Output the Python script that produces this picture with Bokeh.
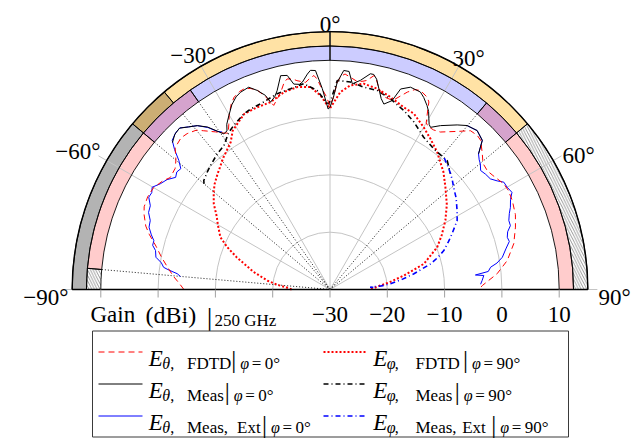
import numpy as np
from bokeh.plotting import figure
from bokeh.models import Range1d
from bokeh.core.properties import value
from bokeh.embed import file_html
from bokeh.resources import INLINE

# ---------------- data (angle in degrees, gain in dBi) ----------------
th_fdtd_theta = [-90, -88, -85, -82, -79, -76, -73, -71, -68, -66,
                 -63, -60, -57, -55, -52, -50, -47.5, -44.5, -42.5, -40,
                 -38.5, -36, -34, -33, -31.5, -30, -28, -26.5, -24.5, -23,
                 -21.5, -20, -18.5, -17, -15.5, -14, -12.5, -11.5, -10, -9,
                 -6.7, -5.5, -4.3, -3.5, -2.7, -1.2, 0, 1, 2, 3,
                 4, 5.5, 7.5, 9, 10, 11.6, 12.5, 13.7, 16, 17.5,
                 19, 21.4, 23, 24.5, 26.8, 27.8, 29, 30, 31, 33,
                 35, 38.8, 41.5, 43.7, 45.3, 48.3, 50.5, 53, 55, 58.7,
                 61, 64, 68, 71.4, 76, 80.7, 84.6, 88.5, 90]
g_fdtd_theta = [-4.5, -3.8, -2.5, -1.3, 0.0, 1.3, 3.0, 4.0, 5.0, 5.5,
                5.7, 5.55, 4.8, 4.05, 4.3, 5.1, 6.65, 7.1, 6.9, 6.3,
                5.4, 4.0, 2.9, 2.6, 3.8, 5.2, 6.7, 7.5, 8.0, 8.1,
                7.7, 7.0, 5.5, 3.6, 4.5, 5.5, 7.0, 7.5, 7.3, 6.9,
                6.4, 7.0, 7.45, 6.8, 5.6, 3.8, 2.1, 3.5, 6.2, 7.3,
                7.7, 7.2, 6.6, 6.8, 7.05, 8.1, 7.5, 6.05, 4.9, 4.8,
                5.2, 7.0, 7.9, 8.15, 7.6, 7.0, 5.0, 3.6, 3.2, 3.2,
                3.55, 5.4, 7.0, 7.2, 7.0, 5.6, 4.6, 4.4, 4.7, 5.5,
                5.6, 5.4, 4.9, 4.15, 3.05, 1.35, -0.7, -3.4, -4.0]

th_meas_theta = [-47, -45, -43, -41, -39, -37, -35, -34.3, -33, -32,
                 -30.2, -28, -26, -24.4, -21.9, -20.1, -18.4, -17.6, -16, -14.9,
                 -13, -11.3, -10, -8.5, -7.6, -6, -5.1, -3.8, -2.2, -0.6,
                 0, 1, 2, 3.6, 5, 6.2, 8.3, 10.6, 11.5, 12.5,
                 13.7, 15, 16.2, 18.2, 19.4, 21.7, 24.6, 26, 27.8, 29,
                 30, 31, 31.8, 34, 37.7, 39.9, 42.8, 45.6, 47.6]
g_meas_theta = [7.6, 8.3, 8.5, 7.6, 6.8, 5.5, 3.5, 2.9, 3.0, 4.0,
                5.1, 6.5, 7.4, 7.8, 8.05, 7.0, 5.7, 4.3, 5.0, 5.9,
                8.3, 8.1, 6.4, 6.2, 6.5, 7.8, 8.4, 8.3, 5.1, 1.5,
                1.8, 3.5, 6.2, 8.3, 8.2, 6.1, 6.9, 8.3, 8.3, 7.6,
                6.05, 4.5, 3.7, 4.7, 7.1, 8.0, 7.9, 7.3, 6.3, 5.5,
                4.5, 3.6, 3.3, 4.5, 6.3, 7.3, 7.8, 7.2, 5.1]

th_ext_theta_l = [-85, -84.1, -83, -82.4, -81, -79.5, -77.4, -76, -74.5, -73,
                  -71, -69, -67, -65, -63, -61.5, -60.1, -58.1, -56, -54,
                  -52.5, -51, -49.5, -48, -46.6, -44.5, -42.9, -41, -39, -37,
                  -35.5, -34.4]
g_ext_theta_l = [-3.8, -3.2, -1.5, -0.7, -0.2, 0.9, 1.2, 1.9, 1.9, 2.6,
                 3.4, 3.6, 4.4, 4.6, 5.5, 5.4, 5.8, 4.9, 4.3, 3.3,
                 3.7, 3.5, 4.7, 6.5, 7.9, 8.4, 8.5, 7.6, 6.8, 5.4,
                 3.9, 3.3]
th_ext_theta_r = [40, 42.8, 45.6, 47.6, 49, 50.1, 51.7, 53.5, 55.4, 57,
                  58.3, 60, 61.9, 63.5, 65.5, 67, 68.9, 70.5, 72, 73.6,
                  75, 77, 79.4, 81, 82.1, 83.5, 84.3, 84.8, 86.6, 88]
g_ext_theta_r = [7.3, 7.8, 7.2, 5.1, 4.5, 4.2, 3.5, 3.8, 4.0, 4.8,
                 5.65, 5.7, 6.0, 5.2, 4.6, 4.0, 3.45, 3.4, 2.6, 2.25,
                 2.4, 1.5, 0.6, -0.5, -1.7, -2.2, -4.5, -3.05, -3.4, -3.7]

th_fdtd_phi = [-90, -87, -85, -82, -77, -71, -67.6, -64.5, -60, -57,
               -53.6, -50, -47.5, -44, -42, -39, -37, -34, -31.5, -29,
               -26, -22, -17.6, -15, -13, -9, -5.5, -2.8, -1, 0,
               1, 3, 5.7, 9.3, 13.2, 17.5, 22, 25.5, 30, 33.7,
               38, 39.4, 44, 48.5, 54, 59, 64, 68.5, 74.7, 79.3,
               83, 85.5, 90]
g_fdtd_phi = [-23.3, -22.3, -20.8, -19.0, -16.3, -12.8, -10.6, -8.8, -7.4, -6.4,
              -4.8, -3.5, -2.7, -1.8, -1.3, -0.4, 0.1, 1.0, 2.5, 3.2,
              4.1, 4.25, 4.3, 4.9, 5.4, 5.8, 5.5, 3.9, 2.3, 1.6,
              2.5, 4.5, 5.8, 6.4, 6.0, 5.2, 4.3, 4.0, 2.7, 1.6,
              0.4, -0.1, -1.5, -3.1, -4.8, -6.5, -8.3, -9.9, -13.0, -16.9,
              -19.5, -21.2, -23.0]

th_meas_phi = [-50, -49.2, -46, -43.9, -39.7, -36.4, -32.9, -30.4, -26.1, -23.7,
               -19.5, -15.1, -11.1, -7.3, -3.7, -1.5, -0.4, 0.5, 2, 5.6,
               9.5, 13.3, 17.6, 22.4, 26.6, 31.6, 36.4, 42.3, 46.2]
g_meas_phi = [-1.3, -0.9, -0.3, 0.05, 0.8, 1.2, 2.6, 3.2, 4.15, 4.4,
              4.7, 5.4, 5.7, 6.2, 4.8, 3.0, 2.4, 3.5, 6.5, 6.4,
              5.8, 5.7, 4.9, 3.8, 2.7, 1.2, 0.5, 0.4, -0.85]

th_ext_phi = [41, 44, 46.2, 48, 50.4, 54, 58.2, 61.5, 65.5, 68,
              71.1, 73.5, 75.7, 79.4, 82, 84.6, 86, 86.7, 87.2]
g_ext_phi = [0.4, -0.3, -0.85, -1.3, -2.0, -2.8, -3.9, -4.75, -6.6, -7.7,
             -9.0, -10.4, -11.9, -15.1, -17.3, -19.4, -21.0, -23.0, -22.4]

# radial axis
r_min, r_max = -30, 15
r_ticks = [-30, -20, -10, 0, 10]
r_tick_labels = ["\u221230", "\u221220", "\u221210", "0", "10"]
ang_ticks = [-90, -60, -30, 0, 30, 60, 90]
ang_labels = ["\u221290\u00b0", "\u221260\u00b0", "\u221230\u00b0", "0\u00b0", "30\u00b0", "60\u00b0", "90\u00b0"]

# annotation rings (angle spans in degrees)
outer_start = [-90, -50, -40, 0]
outer_end = [-50, -40, 0, 50]
outer_colors = ["#b3b3b3", "#ccae74", "#ffe2a5", "#ffe2a5"]
outer_hatch = [(50, 90)]
inner_start = [-85, -50, -35, 0, 40, 50]
inner_end = [-50, -35, 0, 40, 50, 90]
inner_colors = ["#ffcccc", "#d5a3cd", "#ccccff", "#ccccff", "#d5a3cd", "#ffcccc"]
inner_hatch = [(-90, -85)]
marker_angles = [-85, -50, -40, -35, 40, 50]

# ---------------- geometry ----------------
K = 5.73            # px per dB
CX, CY = 329.5, 289.0
W, H = 640, 438
FONT = "Liberation Serif"


def px(x):
    return (x - CX) / K


def py(y):
    return (CY - y) / K


def pol(th, g):
    th = np.radians(np.asarray(th, float))
    r = np.asarray(g, float) - r_min
    return r * np.sin(th), r * np.cos(th)


p = figure(width=W, height=H, x_range=Range1d(px(0), px(W)), y_range=Range1d(py(H), py(0)),
           output_backend="svg", toolbar_location=None, min_border=0,
           x_axis_type=None, y_axis_type=None, outline_line_color=None,
           background_fill_color="white", border_fill_color="white")

R_IN = 10 - r_min
R_MID = 12.5 - r_min
R_OUT = r_max - r_min
GRID = "#c4c4c4"


def ang(starts, ends):
    # compass angles (0 = up, clockwise) -> math radians, anticlockwise
    return ([float(np.radians(90 - e)) for e in ends],
            [float(np.radians(90 - s)) for s in starts])


# grid circles
p.arc(x=0, y=0, radius=[t - r_min for t in r_ticks[1:-1]], start_angle=0, end_angle=np.pi,
      line_color=GRID, line_width=1)

# ring fills
sa, ea = ang(inner_start, inner_end)
p.annular_wedge(x=0, y=0, inner_radius=R_IN, outer_radius=R_MID, start_angle=sa, end_angle=ea,
                fill_color=inner_colors, line_color=None)
sa, ea = ang(outer_start, outer_end)
p.annular_wedge(x=0, y=0, inner_radius=R_MID, outer_radius=R_OUT, start_angle=sa, end_angle=ea,
                fill_color=outer_colors, line_color=None)
for (s, e), (ri, ro) in [(inner_hatch[0], (R_IN, R_MID)), (outer_hatch[0], (R_MID, R_OUT))]:
    a0, a1 = ang([s], [e])
    p.annular_wedge(x=0, y=0, inner_radius=ri, outer_radius=ro, start_angle=a0, end_angle=a1,
                    fill_color="white", line_color=None,
                    hatch_pattern="\\", hatch_color="#707070", hatch_scale=5.5, hatch_weight=0.7)

# radial grid lines
ext = R_OUT + 9.5 / K
at = np.radians(ang_ticks)
p.segment(x0=0, y0=0, x1=ext * np.sin(at), y1=ext * np.cos(at), line_color=GRID, line_width=1)

# ring outlines
all_in = [(s, e) for s, e in zip(inner_start, inner_end)] + inner_hatch
all_out = [(s, e) for s, e in zip(outer_start, outer_end)] + outer_hatch
for spans, ri, ro in [(all_in, R_IN, R_MID), (all_out, R_MID, R_OUT)]:
    sa, ea = ang([s for s, _ in spans], [e for _, e in spans])
    p.annular_wedge(x=0, y=0, inner_radius=ri, outer_radius=ro, start_angle=sa, end_angle=ea,
                    fill_color=None, line_color="black", line_width=0.9)
p.arc(x=0, y=0, radius=R_OUT, start_angle=0, end_angle=np.pi,
      line_color="black", line_width=1.4)

# dotted marker lines
ma = np.radians(marker_angles)
p.segment(x0=0, y0=0, x1=R_IN * np.sin(ma), y1=R_IN * np.cos(ma),
          line_color="black", line_width=0.9, line_dash="1 2")

# series
styles = {
    "fdtd_theta": dict(line_color="#ff0000", line_width=1.0, line_dash="6 4"),
    "meas_theta": dict(line_color="black", line_width=1.0),
    "ext_theta": dict(line_color="#0000ff", line_width=1.0),
    "fdtd_phi": dict(line_color="#ff0000", line_width=2.0, line_dash="2 2"),
    "meas_phi": dict(line_color="black", line_width=1.6, line_dash="5 3 1 3"),
    "ext_phi": dict(line_color="#0000ff", line_width=1.6, line_dash="5 3 1 3"),
}

x, y = pol(th_fdtd_phi, g_fdtd_phi)
p.line(x, y, **styles["fdtd_phi"])
x, y = pol(th_meas_phi, g_meas_phi)
p.line(x, y, **styles["meas_phi"])
x, y = pol(th_ext_phi, g_ext_phi)
p.line(x, y, **styles["ext_phi"])
x, y = pol(th_ext_theta_l, g_ext_theta_l)
p.line(x, y, **styles["ext_theta"])
x, y = pol(th_ext_theta_r, g_ext_theta_r)
p.line(x, y, **styles["ext_theta"])
x, y = pol(th_fdtd_theta, g_fdtd_theta)
p.line(x, y, **styles["fdtd_theta"])
x, y = pol(th_meas_theta, g_meas_theta)
p.line(x, y, **styles["meas_theta"])

# baseline and radial ticks
p.segment(x0=-R_OUT, y0=0, x1=R_OUT, y1=0, line_color="black", line_width=1.4)
tr = np.array([t - r_min for t in r_ticks], float)
tx = np.concatenate([tr, -tr[1:]])
p.segment(x0=tx, y0=0, x1=tx, y1=-8 / K, line_color="#a0a0a0", line_width=1)


def txt(xp, yp, s, size, style="normal", align="left", baseline="alphabetic"):
    p.text(x=[px(xp)], y=[py(yp)], text=[s], text_font=value(FONT),
           text_font_size=f"{size}px", text_font_style=style,
           text_align=align, text_baseline=baseline, text_color="black")


# radial tick labels
for t, lab in zip(r_ticks, r_tick_labels):
    p.text(x=[t - r_min], y=[py(314)], text=[lab], text_font=value(FONT), text_font_size="23px",
           text_align="center", text_baseline="alphabetic")
txt(90, 314, "Gain", 23)
txt(145, 314, "(dBi)", 24)
txt(209, 317, "|", 28, align="center")
txt(214, 320, "250 GHz", 17)

# angular labels
ang_pos = {-90: (68, 297, "right"), -60: (100, 151, "right"), -30: (215, 55, "right"),
           0: (329.5, 23.5, "center"), 30: (452, 58, "left"), 60: (562, 155, "left"),
           90: (598, 297, "left")}
for a, lab in zip(ang_ticks, ang_labels):
    xp_, yp_, al = ang_pos[a]
    txt(xp_, yp_, lab, 23, align=al)

# legend
p.quad(left=px(92), right=px(568), top=py(330.5), bottom=py(436.5), fill_color="white",
       line_color="#3a3a3a", line_width=1)
rows_line = [351.5, 383.5, 415.5]
rows_base = [357.5, 389.8, 422]
left_keys = ["fdtd_theta", "meas_theta", "ext_theta"]
right_keys = ["fdtd_phi", "meas_phi", "ext_phi"]
for i in range(3):
    yl = py(rows_line[i])
    p.line([px(98), px(142)], [yl, yl], **styles[left_keys[i]])
    p.line([px(323), px(366)], [yl, yl], **styles[right_keys[i]])

words_left = [[("FDTD", 186.5)], [("Meas", 186.5)], [("Meas,", 186.5), ("Ext", 236.5)]]
bars_left = [233.3, 226.7, 264]
words_right = [[("FDTD", 415)], [("Meas", 415)], [("Meas,", 415), ("Ext", 461.7)]]
bars_right = [465, 456.7, 493.3]

for i in range(3):
    B = rows_base[i]
    for (x0, sym, words, bar, val) in [(148.3, "\u03b8", words_left[i], bars_left[i], "0\u00b0"),
                                       (372.7, "\u03c6", words_right[i], bars_right[i], "90\u00b0")]:
        txt(x0, B, "E", 23, style="italic")
        txt(x0 + 13.5, B + 5, sym, 16, style="italic")
        txt(x0 + 21.5, B + 5, ",", 16)
        for w, wx in words:
            txt(wx, B + 5, w, 17)
        txt(bar, B + 1.5, "|", 25, align="center")
        txt(bar + 6.5, B + 5, "\u03c6", 16, style="italic")
        txt(bar + 18, B + 5, "=", 17)
        txt(bar + 31, B + 5, val, 17)

open("out.html", "w").write(file_html(p, INLINE))
